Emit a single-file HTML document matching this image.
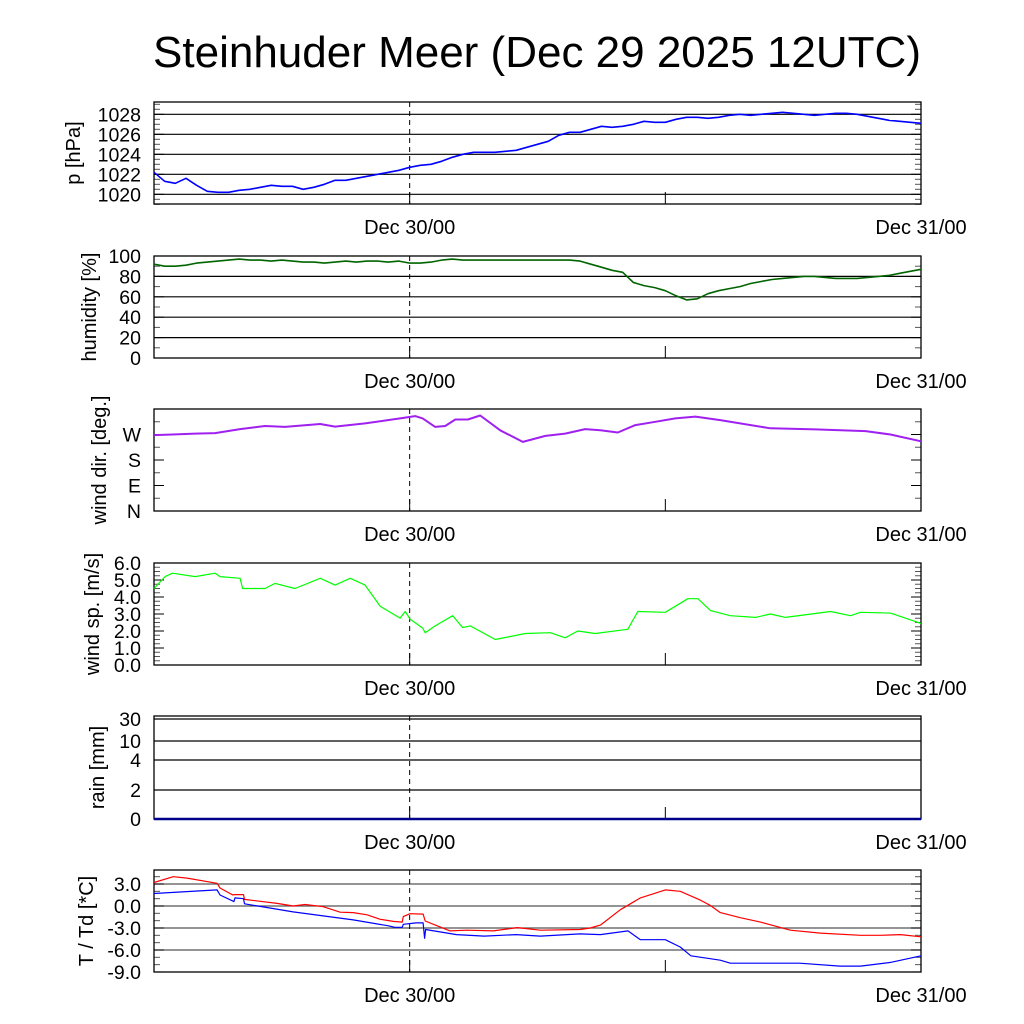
<!DOCTYPE html>
<html><head><meta charset="utf-8"><style>
body{margin:0;background:#fff}
svg{display:block;font-family:"Liberation Sans",sans-serif}
</style></head><body>
<svg id="c" width="1024" height="1024" viewBox="0 0 1024 1024">
<text x="537" y="67" font-size="44" text-anchor="middle">Steinhuder Meer (Dec 29 2025 12UTC)</text>
</svg>
<script>
// ---- data (time in hours since Dec 29 12UTC) ----
const pressure=[1022.2,1021.3,1021.1,1021.6,1020.9,1020.3,1020.2,1020.2,1020.4,1020.5,1020.7,1020.9,1020.8,1020.8,1020.5,1020.7,1021.0,1021.4,1021.4,1021.6,1021.8,1022.0,1022.2,1022.4,1022.7,1022.9,1023.0,1023.3,1023.7,1024.0,1024.2,1024.2,1024.2,1024.3,1024.4,1024.7,1025.0,1025.3,1025.9,1026.2,1026.2,1026.5,1026.8,1026.7,1026.8,1027.0,1027.3,1027.2,1027.2,1027.5,1027.7,1027.7,1027.6,1027.7,1027.9,1028.0,1027.9,1028.0,1028.1,1028.2,1028.1,1028.0,1027.9,1028.0,1028.1,1028.1,1028.0,1027.8,1027.6,1027.4,1027.3,1027.2,1027.1];
const humidity=[92,90,90,91,93,94,95,96,97,96,96,95,96,95,94,94,93,94,95,94,95,95,94,95,93,93,94,96,97,96,96,96,96,96,96,96,96,96,96,96,95,92,89,86,84,74,71,69,66,61,57,58,63,66,68,70,73,75,77,78,79,80,80,79,78,78,78,79,80,81,83,85,87];
const dirTimes=[0,0.87,1.93,2.87,4.04,5.21,6.15,7.8,8.5,9.91,11.55,12.26,12.61,13.2,13.67,14.14,14.73,15.31,16.25,17.31,18.37,19.3,20.24,20.95,21.77,22.59,23.53,24.47,25.41,26.58,28.93,31.05,33.4,34.57,36];
const dirDeg=[268,270,273,275,289,300,297,307,298,309,327,335,327,297,300,323,323,337,285,244,265,273,289,285,277,303,315,327,333,321,292,288,282,270,246];
const spdTimes=[0,0.52,0.87,1.93,2.87,3.1,4.04,4.16,4.63,5.21,5.68,6.62,7.8,8.5,9.21,9.91,10.62,11.55,11.79,12.02,12.61,12.73,13.2,14.02,14.49,14.84,16.02,17.43,18.6,19.3,19.89,20.71,22.24,22.71,24.0,25.06,25.53,26.12,27.05,28.23,28.93,29.64,31.75,32.69,33.16,34.57,36];
const speed=[4.5,5.2,5.4,5.2,5.4,5.2,5.1,4.5,4.5,4.5,4.8,4.5,5.1,4.7,5.1,4.7,3.45,2.76,3.15,2.7,2.17,1.9,2.3,2.9,2.2,2.3,1.5,1.85,1.9,1.6,2.0,1.85,2.1,3.15,3.1,3.9,3.9,3.2,2.9,2.8,3.0,2.8,3.15,2.9,3.1,3.05,2.45];
const rain=[0,0];
const tTimes=[0,0.9,1.55,2.96,3.1,3.7,3.75,4.2,4.25,5.78,6.53,7.09,7.94,8.74,9.35,10.0,10.6,11.23,11.65,11.7,12.02,12.63,12.73,13.29,13.9,14.7,15.92,17.05,18.13,20.0,20.48,20.95,21.89,22.83,24.0,24.7,25.64,26.1,26.58,27.52,28.46,29.87,31.28,33.16,34.1,35.04,36];
const temp=[3.2,4.0,3.8,3.1,2.45,1.5,1.55,1.55,0.9,0.35,0.0,0.2,-0.1,-0.85,-0.9,-1.2,-1.8,-2.1,-2.2,-1.45,-1.05,-1.1,-2.05,-2.7,-3.4,-3.3,-3.4,-2.95,-3.3,-3.2,-3.0,-2.6,-0.5,1.1,2.2,2.0,0.8,0.1,-0.9,-1.6,-2.2,-3.3,-3.7,-4.0,-4.0,-3.9,-4.2];
const tdTimes=[0,2.96,3.1,3.75,3.8,4.2,4.25,6.53,9.35,11.0,11.3,11.65,11.7,12.3,12.63,12.7,12.75,14.2,15.5,17.0,18.13,20.0,20.95,22.25,22.83,24.0,24.7,25.2,26.58,27.05,30.3,32.2,33.16,34.57,36];
const dew=[1.7,2.2,1.5,0.6,1.1,1.0,0.3,-0.8,-1.9,-2.7,-2.9,-2.9,-2.5,-2.3,-2.3,-4.4,-3.2,-3.9,-4.1,-3.9,-4.1,-3.8,-3.9,-3.4,-4.6,-4.6,-5.6,-6.8,-7.4,-7.8,-7.8,-8.2,-8.2,-7.7,-6.8];
const xLabels=["Dec 30/00","Dec 31/00"];

const svg=document.getElementById('c');
const NS='http://www.w3.org/2000/svg';
const X0=154,X1=921;
const xs=h=>X0+h*(X1-X0)/36;
function mk(tag,at,parent){const e=document.createElementNS(NS,tag);for(const k in at)e.setAttribute(k,at[k]);(parent||svg).appendChild(e);return e;}

function panel(name,top,bot,yfn,ticks,labels,grid,minor,title,titleX,gridColor){
  const g=mk('g',{});
  
  
  if(grid){ticks.forEach(v=>{const y=yfn(v);if(y>top+1&&y<bot-1){const l=mk('line',{x1:X0,x2:X1,y1:y,y2:y,stroke:gridColor||'#000','stroke-width':1.2},g);}});}
  minor.forEach(v=>{const y=yfn(v);mk('line',{x1:X0,x2:X0+6,y1:y,y2:y,stroke:'#555','stroke-width':1},g);mk('line',{x1:X1-6,x2:X1,y1:y,y2:y,stroke:'#555','stroke-width':1},g);});
  ticks.forEach((v,i)=>{const y=yfn(v);mk('line',{x1:X0,x2:X0+10,y1:y,y2:y,stroke:'#000','stroke-width':1},g);mk('line',{x1:X1-10,x2:X1,y1:y,y2:y,stroke:'#000','stroke-width':1},g);
    const t=mk('text',{x:141,y:y+7,'font-size':19.5,'text-anchor':'end'},g);t.textContent=labels[i];});
  const d=mk('line',{x1:xs(12),x2:xs(12),y1:top,y2:bot,stroke:'#000','stroke-width':1,'stroke-dasharray':'5,4'},g);
  
  mk('line',{x1:xs(12),x2:xs(12),y1:bot-12,y2:bot,stroke:'#000'},g);
  mk('line',{x1:xs(24),x2:xs(24),y1:bot-12,y2:bot,stroke:'#000'},g);
  const f=mk('rect',{x:X0,y:top,width:X1-X0,height:bot-top,fill:'none',stroke:'#000','stroke-width':1.3},g);
  
  [[12,xLabels[0]],[36,xLabels[1]]].forEach(([h,s])=>{const t=mk('text',{x:xs(h),y:bot+30,'font-size':20,'text-anchor':'middle'},g);t.textContent=s;});
  const cy=(top+bot)/2;
  const tt=mk('text',{x:0,y:0,'font-size':20,'text-anchor':'middle',transform:`translate(${titleX},${cy}) rotate(-90)`},g);
  tt.textContent=title;
  return g;
}
function series(g,name,times,vals,yfn,color,w){
  const pts=vals.map((v,i)=>xs(times[i]).toFixed(1)+','+yfn(v).toFixed(1)).join(' ');
  const p=mk('polyline',{points:pts,fill:'none',stroke:color,'stroke-width':w,'stroke-linejoin':'round'},g);
  
}
const reg=n=>Array.from({length:n},(_,i)=>i*36/(n-1));

// pressure
const yp=v=>194.3-(v-1020)*10;
let g=panel('pressure',102,204,yp,[1020,1022,1024,1026,1028],['1020','1022','1024','1026','1028'],true,[1019,1021,1023,1025,1027,1029].concat([1019.5,1020.5,1021.5,1022.5,1023.5,1024.5,1025.5,1026.5,1027.5,1028.5]),'p [hPa]',80);
series(g,'pressure-line',reg(pressure.length),pressure,yp,'#0000ff',1.6);
// humidity
const yh=v=>358-v*1.02;
g=panel('humidity',256,358,yh,[0,20,40,60,80,100],['0','20','40','60','80','100'],true,[10,30,50,70,90],'humidity [%]',96);
series(g,'humidity-line',reg(humidity.length),humidity,yh,'#006400',1.6);
// wind dir
const yd=v=>511-v*102/360;
g=panel('wind-dir',409,511,yd,[0,90,180,270],['N','E','S','W'],false,[45,135,225,315],'wind dir. [deg.]',106);
series(g,'wind-dir-line',dirTimes,dirDeg,yd,'#a020f0',2);
// wind speed
const ys=v=>665-v*17;
g=panel('wind-speed',563,665,ys,[0,1,2,3,4,5,6],['0.0','1.0','2.0','3.0','4.0','5.0','6.0'],false,[0.25,0.5,0.75,1.25,1.5,1.75,2.25,2.5,2.75,3.25,3.5,3.75,4.25,4.5,4.75,5.25,5.5,5.75],'wind sp. [m/s]',99);
series(g,'wind-speed-line',spdTimes,speed,ys,'#00ff00',1.2);
// rain (nonlinear scale)
const rv=[0,2,4,10,30],ry=[819,790,760,741,719];
const yr=v=>{for(let i=1;i<rv.length;i++)if(v<=rv[i])return ry[i-1]+(v-rv[i-1])/(rv[i]-rv[i-1])*(ry[i]-ry[i-1]);return ry[4];};
g=panel('rain',716,819,yr,[0,2,4,10,30],['0','2','4','10','30'],true,[],'rain [mm]',104);
series(g,'rain-line',[0,36],rain,yr,'#00008b',2.5);
// temperature
const yt=v=>906-v*7.33;
g=panel('temperature',870,972,yt,[-9,-6,-3,0,3],['-9.0','-6.0','-3.0','0.0','3.0'],true,[-8,-7,-5,-4,-2,-1,1,2,4],'T / Td [*C]',93,'#555');
series(g,'temperature-line',tTimes,temp,yt,'#ff0000',1.2);
series(g,'dewpoint-line',tdTimes,dew,yt,'#0000ff',1.2);
</script>
</body></html>
